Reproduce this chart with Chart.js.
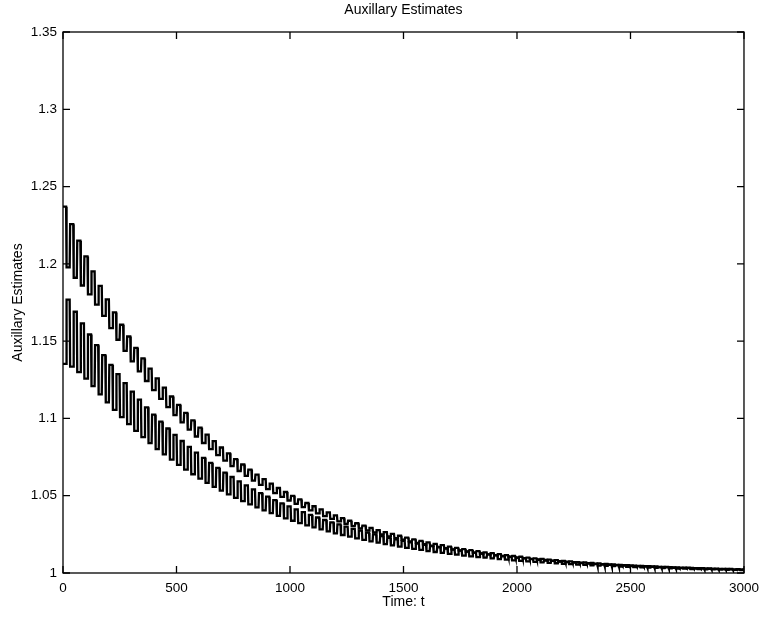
<!DOCTYPE html>
<html>
<head>
<meta charset="utf-8">
<title>Auxillary Estimates</title>
<script src="https://cdn.jsdelivr.net/npm/chart.js@4.4.0/dist/chart.umd.min.js"></script>
<style>
  html, body { margin: 0; padding: 0; background: #fff; }
  #wrap { width: 766px; height: 621px; }
</style>
</head>
<body>
<div id="wrap"><canvas id="auxChart" width="766" height="621"></canvas></div>
<script>
// tick values of both axes
var xTickValues = [0, 500, 1000, 1500, 2000, 2500, 3000];
var yTickValues = [1, 1.05, 1.1, 1.15, 1.2, 1.25, 1.3, 1.35];

// one oscillation lasts about this many time units
var period = 31.4;

// levels, one value per oscillation
var upperHigh = [
  1.2370, 1.2257, 1.2150, 1.2048, 1.1951, 1.1858, 1.1770, 1.1686, 1.1606, 1.1530,
  1.1457, 1.1388, 1.1322, 1.1259, 1.1199, 1.1142, 1.1088, 1.1036, 1.0987, 1.0940,
  1.0895, 1.0853, 1.0812, 1.0774, 1.0737, 1.0702, 1.0669, 1.0637, 1.0607, 1.0578,
  1.0550, 1.0524, 1.0499, 1.0476, 1.0453, 1.0432, 1.0411, 1.0392, 1.0373, 1.0355,
  1.0338, 1.0322, 1.0307, 1.0292, 1.0278, 1.0265, 1.0253, 1.0241, 1.0229, 1.0218,
  1.0208, 1.0198, 1.0189, 1.0180, 1.0171, 1.0163, 1.0155, 1.0148, 1.0141, 1.0134,
  1.0128, 1.0122, 1.0116, 1.0110, 1.0105, 1.0100, 1.0095, 1.0091, 1.0087, 1.0083,
  1.0079, 1.0075, 1.0071, 1.0068, 1.0065, 1.0062, 1.0059, 1.0056, 1.0053, 1.0051,
  1.0048, 1.0046, 1.0044, 1.0042, 1.0040, 1.0038, 1.0036, 1.0034, 1.0033, 1.0031,
  1.0030, 1.0028, 1.0027, 1.0026, 1.0024, 1.0023
];
var upperLow = [
  1.1977, 1.1910, 1.1860, 1.1802, 1.1736, 1.1663, 1.1584, 1.1509, 1.1437, 1.1369,
  1.1304, 1.1242, 1.1183, 1.1127, 1.1073, 1.1022, 1.0974, 1.0927, 1.0883, 1.0841,
  1.0801, 1.0763, 1.0727, 1.0692, 1.0660, 1.0628, 1.0598, 1.0570, 1.0543, 1.0517,
  1.0493, 1.0469, 1.0447, 1.0426, 1.0405, 1.0386, 1.0368, 1.0350, 1.0334, 1.0318,
  1.0303, 1.0288, 1.0275, 1.0262, 1.0249, 1.0237, 1.0226, 1.0215, 1.0205, 1.0195,
  1.0186, 1.0177, 1.0169, 1.0161, 1.0153, 1.0146, 1.0139, 1.0132, 1.0126, 1.0120,
  1.0114, 1.0109, 1.0104, 1.0099, 1.0094, 1.0090, 1.0085, 1.0081, 1.0078, 1.0074,
  1.0070, 1.0067, 1.0064, 1.0061, 1.0058, 1.0055, 1.0052, 1.0050, 1.0048, 1.0045,
  1.0043, 1.0041, 1.0039, 1.0037, 1.0036, 1.0034, 1.0032, 1.0031, 1.0029, 1.0028,
  1.0027, 1.0025, 1.0024, 1.0023, 1.0022, 1.0021
];
var lowerHigh = [
  1.1769, 1.1690, 1.1615, 1.1543, 1.1474, 1.1409, 1.1346, 1.1286, 1.1229, 1.1174,
  1.1122, 1.1072, 1.1024, 1.0979, 1.0935, 1.0893, 1.0854, 1.0816, 1.0779, 1.0745,
  1.0712, 1.0680, 1.0650, 1.0621, 1.0593, 1.0567, 1.0541, 1.0517, 1.0494, 1.0472,
  1.0451, 1.0431, 1.0412, 1.0394, 1.0376, 1.0359, 1.0343, 1.0328, 1.0314, 1.0300,
  1.0286, 1.0274, 1.0261, 1.0250, 1.0239, 1.0228, 1.0218, 1.0208, 1.0199, 1.0190,
  1.0182, 1.0174, 1.0166, 1.0158, 1.0151, 1.0145, 1.0138, 1.0132, 1.0126, 1.0121,
  1.0115, 1.0110, 1.0105, 1.0100, 1.0096, 1.0092, 1.0088, 1.0084, 1.0080, 1.0076,
  1.0073, 1.0070, 1.0067, 1.0064, 1.0061, 1.0058, 1.0056, 1.0053, 1.0051, 1.0049,
  1.0046, 1.0044, 1.0042, 1.0040, 1.0039, 1.0037, 1.0035, 1.0034, 1.0032, 1.0031,
  1.0029, 1.0028, 1.0027, 1.0026, 1.0025, 1.0023
];
var lowerLow = [
  1.1353, 1.1335, 1.1300, 1.1257, 1.1209, 1.1155, 1.1104, 1.1055, 1.1008, 1.0963,
  1.0920, 1.0879, 1.0840, 1.0802, 1.0767, 1.0733, 1.0700, 1.0669, 1.0639, 1.0611,
  1.0583, 1.0557, 1.0533, 1.0509, 1.0486, 1.0465, 1.0444, 1.0424, 1.0405, 1.0387,
  1.0370, 1.0354, 1.0338, 1.0323, 1.0308, 1.0295, 1.0282, 1.0269, 1.0257, 1.0246,
  1.0235, 1.0224, 1.0214, 1.0205, 1.0196, 1.0187, 1.0179, 1.0171, 1.0163, 1.0156,
  1.0149, 1.0142, 1.0136, 1.0130, 1.0124, 1.0119, 1.0113, 1.0108, 1.0103, 1.0099,
  1.0094, 1.0090, 1.0086, 1.0082, 1.0079, 1.0075, 1.0072, 1.0069, 1.0066, 1.0063,
  1.0060, 1.0057, 1.0055, 1.0052, 1.0050, 1.0048, 1.0046, 1.0044, 1.0042, 1.0040,
  1.0038, 1.0036, 1.0035, 1.0033, 1.0032, 1.0030, 1.0029, 1.0028, 1.0026, 1.0025,
  1.0024, 1.0023, 1.0022, 1.0021, 1.0020, 1.0019
];

var FONT = "'Liberation Sans', Arial, Helvetica, sans-serif";

// square wave: first level for half a period, then the second level
function buildSeries(first, second) {
  var pts = [];
  var half = period / 2;
  var ramp = 2;
  for (var k = 0; k < first.length; k++) {
    var t0 = k * period;
    pts.push({ x: t0, y: first[k] });
    pts.push({ x: t0 + half - ramp, y: first[k] });
    pts.push({ x: t0 + half, y: second[k] });
    pts.push({ x: t0 + period - ramp, y: second[k] });
  }
  return pts;
}

// matlab style box with ticks pointing inwards, and the title
var boxPlugin = {
  id: 'boxPlugin',
  afterDraw: function(chart) {
    var ctx = chart.ctx;
    var a = chart.chartArea;
    var xs = chart.scales.x;
    var ys = chart.scales.y;
    var len = 7;
    ctx.save();
    ctx.strokeStyle = '#000';
    ctx.lineWidth = 1.3;
    ctx.strokeRect(a.left, a.top, a.right - a.left, a.bottom - a.top);
    ctx.beginPath();
    xTickValues.forEach(function(v) {
      var px = xs.getPixelForValue(v);
      ctx.moveTo(px, a.bottom); ctx.lineTo(px, a.bottom - len);
      ctx.moveTo(px, a.top); ctx.lineTo(px, a.top + len);
    });
    yTickValues.forEach(function(v) {
      var py = ys.getPixelForValue(v);
      ctx.moveTo(a.left, py); ctx.lineTo(a.left + len, py);
      ctx.moveTo(a.right, py); ctx.lineTo(a.right - len, py);
    });
    ctx.stroke();
    ctx.fillStyle = '#000';
    ctx.font = '14px ' + FONT;
    ctx.textAlign = 'center';
    ctx.textBaseline = 'middle';
    ctx.fillText('Auxillary Estimates', (a.left + a.right) / 2, 10);
    ctx.restore();
  }
};

var ctx = document.getElementById('auxChart');
var auxChart = new Chart(ctx, {
  type: 'line',
  data: {
    datasets: [
      {
        label: 'upper',
        data: buildSeries(upperHigh, upperLow),
        borderColor: '#000',
        borderWidth: 2.3,
        pointRadius: 0,
        tension: 0,
        fill: false
      },
      {
        label: 'lower',
        data: buildSeries(lowerLow, lowerHigh),
        borderColor: '#000',
        borderWidth: 2.3,
        pointRadius: 0,
        tension: 0,
        fill: false
      }
    ]
  },
  options: {
    responsive: false,
    animation: false,
    devicePixelRatio: 1,
    layout: { padding: { top: 32, right: 19, bottom: 0, left: 0 } },
    plugins: {
      legend: { display: false },
      title: { display: false },
      tooltip: { enabled: false }
    },
    scales: {
      x: {
        type: 'linear',
        min: 0,
        max: 3000,
        grid: { display: false, drawTicks: false },
        border: { display: false },
        afterBuildTicks: function(s) { s.ticks = xTickValues.map(function(v) { return { value: v }; }); },
        afterFit: function(s) { s.height = 48; },
        ticks: {
          color: '#000',
          font: { family: FONT, size: 13.5 },
          padding: 7,
          maxRotation: 0,
          autoSkip: false,
          callback: function(v) { return String(v); }
        },
        title: {
          display: true,
          text: 'Time: t',
          color: '#000',
          font: { family: FONT, size: 14 },
          padding: { top: 0, bottom: 10 }
        }
      },
      y: {
        type: 'linear',
        min: 1,
        max: 1.35,
        grid: { display: false, drawTicks: false },
        border: { display: false },
        afterBuildTicks: function(s) { s.ticks = yTickValues.map(function(v) { return { value: v }; }); },
        afterFit: function(s) { s.width = 63; },
        ticks: {
          color: '#000',
          font: { family: FONT, size: 13.5 },
          padding: 6,
          autoSkip: false,
          callback: function(v) { return String(+v.toFixed(2)); }
        },
        title: {
          display: true,
          text: 'Auxillary Estimates',
          color: '#000',
          font: { family: FONT, size: 14 },
          padding: { top: 10, bottom: 0 }
        }
      }
    }
  },
  plugins: [boxPlugin]
});
</script>
</body>
</html>
